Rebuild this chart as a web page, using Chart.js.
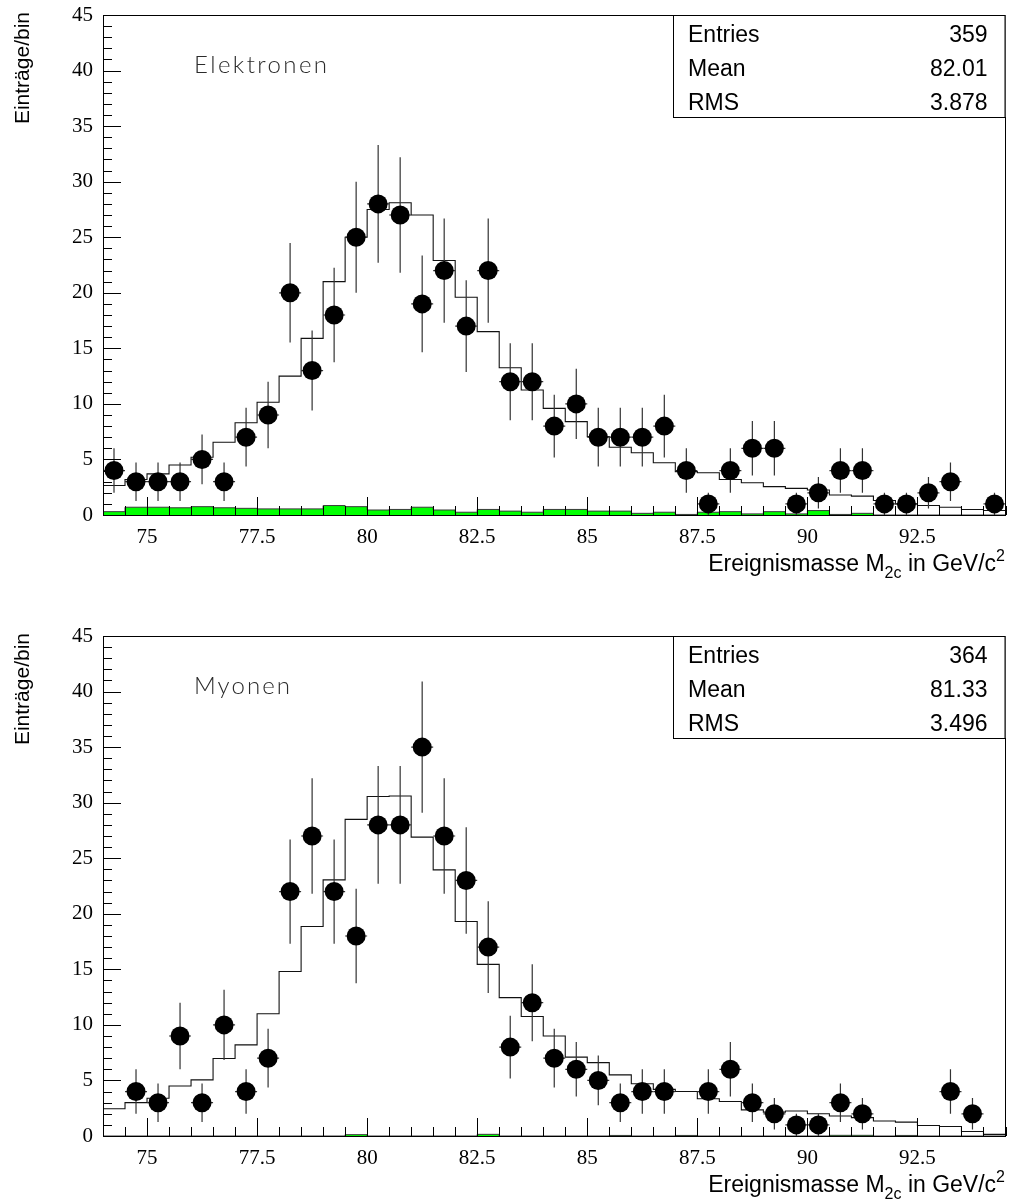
<!DOCTYPE html>
<html>
<head>
<meta charset="utf-8">
<title>Ereignismasse M2c</title>
<script src="https://cdn.jsdelivr.net/npm/chart.js@4/dist/chart.umd.min.js"></script>
<style>
    html, body { margin: 0; padding: 0; background: #fff; }
    .panel { position: absolute; left: 0; width: 1015px; height: 580px; }
</style>
</head>
<body>
<div class="panel" style="top:0"><canvas id="elec-chart" width="1015" height="580"></canvas></div>
<div class="panel" style="top:621px"><canvas id="muon-chart" width="1015" height="580"></canvas></div>

<script>
// Bin centres of the mass histograms (GeV/c^2), 0.5 wide bins from 74 to 94.5
const massBins = [
    74.25, 74.75, 75.25, 75.75, 76.25, 76.75, 77.25, 77.75, 78.25, 78.75,
    79.25, 79.75, 80.25, 80.75, 81.25, 81.75, 82.25, 82.75, 83.25, 83.75,
    84.25, 84.75, 85.25, 85.75, 86.25, 86.75, 87.25, 87.75, 88.25, 88.75,
    89.25, 89.75, 90.25, 90.75, 91.25, 91.75, 92.25, 92.75, 93.25, 93.75,
    94.25
];

// Electron channel: measured counts, MC expectation, background
const elecData = [
    4, 3, 3, 3, 5, 3, 7, 9, 20, 13,
    18, 25, 28, 27, 19, 22, 17, 22, 12, 12,
    8, 10, 7, 7, 7, 8, 4, 1, 4, 6,
    6, 1, 2, 4, 4, 1, 1, 2, 3, 0,
    1
];
const elecMC = [
    2.65, 3.2, 3.7, 4.5, 5.2, 6.55, 8.3, 10.15, 12.5, 15.9,
    21.0, 25.0, 27.5, 28.1, 27.0, 22.9, 19.6, 16.5, 13.25, 11.25,
    9.6, 8.4, 7.05, 6.1, 5.6, 4.7, 3.9, 3.8, 3.2, 2.9,
    2.55, 2.4, 2.25, 1.8, 1.7, 1.3, 1.0, 0.85, 0.7, 0.5,
    0.4
];
const elecBkg = [
    0.3, 0.7, 0.7, 0.65, 0.75, 0.65, 0.6, 0.55, 0.55, 0.55,
    0.85, 0.75, 0.45, 0.5, 0.7, 0.45, 0.25, 0.5, 0.35, 0.25,
    0.5, 0.5, 0.35, 0.35, 0.15, 0.25, 0.05, 0.25, 0.3, 0.1,
    0.3, 0.1, 0.4, 0.05, 0.15, 0, 0, 0, 0, 0,
    0
];
const elecStats = ['359', '82.01', '3.878'];

// Muon channel
const muonData = [
    0, 4, 3, 9, 3, 10, 4, 7, 22, 27,
    22, 18, 28, 28, 35, 27, 23, 17, 8, 12,
    7, 6, 5, 3, 4, 4, 0, 4, 6, 3,
    2, 1, 1, 3, 2, 0, 0, 0, 4, 2,
    0
];
const muonMC = [
    2.45, 3.0, 3.4, 4.5, 5.05, 6.97, 8.2, 11.0, 14.8, 18.85,
    23.05, 28.5, 30.55, 30.6, 26.9, 23.95, 19.3, 15.45, 12.45, 10.75,
    9.0, 7.1, 6.6, 5.5, 4.7, 4.2, 4.0, 3.35, 3.1, 2.35,
    2.15, 2.25, 2.0, 1.8, 1.65, 1.35, 1.25, 0.95, 0.85, 0.4,
    0.15
];
const muonBkg = [
    0, 0, 0, 0, 0, 0, 0, 0, 0, 0,
    0, 0.12, 0, 0, 0, 0, 0, 0.15, 0, 0,
    0, 0, 0, 0.05, 0, 0, 0.05, 0, 0, 0,
    0, 0, 0, 0.06, 0.06, 0, 0.05, 0, 0, 0,
    0
];
const muonStats = ['364', '81.33', '3.496'];

const xTicks = [75, 77.5, 80, 82.5, 85, 87.5, 90, 92.5];
const yTicks = [0, 5, 10, 15, 20, 25, 30, 35, 40, 45];
const statNames = ['Entries', 'Mean', 'RMS'];

const HALF_BIN = 0.25;
const SERIF = "'Liberation Serif', 'Times New Roman', serif";
const SANS = "'Liberation Sans', Arial, Helvetica, sans-serif";

// histogram outline: one point per left bin edge plus the closing right edge
function edgePoints(values) {
    const pts = values.map((v, i) => ({ x: massBins[i] - HALF_BIN, y: v }));
    pts.push({ x: massBins[massBins.length - 1] + HALF_BIN, y: values[values.length - 1] });
    return pts;
}

// data points, empty bins are not drawn
function countPoints(counts) {
    return massBins
        .map((m, i) => ({ x: m, y: counts[i] }))
        .filter(p => p.y > 0);
}

// Poisson error bars behind the markers
const errorBars = {
    id: 'errorBars',
    beforeDatasetDraw(chart, args) {
        if (args.index !== 0) return;
        const { ctx, scales: { x, y } } = chart;
        const ds = chart.data.datasets[0];
        ctx.save();
        ctx.strokeStyle = '#333';
        ctx.lineWidth = 1.2;
        ds.data.forEach(p => {
            const err = Math.sqrt(p.y);
            const px = x.getPixelForValue(p.x);
            const py = y.getPixelForValue(p.y);
            ctx.beginPath();
            ctx.moveTo(px, y.getPixelForValue(p.y - err));
            ctx.lineTo(px, y.getPixelForValue(p.y + err));
            ctx.moveTo(x.getPixelForValue(p.x - HALF_BIN), py);
            ctx.lineTo(x.getPixelForValue(p.x + HALF_BIN), py);
            ctx.stroke();
        });
        ctx.restore();
    }
};

// frame, inward ticks, axis titles, stats box and channel label
const rootFrame = {
    id: 'rootFrame',
    afterDatasetsDraw(chart, args, opts) {
        const { ctx, chartArea: a, scales: { x, y } } = chart;
        ctx.save();
        ctx.strokeStyle = '#000';
        ctx.lineWidth = 1;

        // ticks on the x axis: major every 2.5, minor every 0.5
        ctx.beginPath();
        for (let k = 0; k <= 41; k++) {
            const v = 74 + k * 0.5;
            const px = Math.round(x.getPixelForValue(v)) + 0.5;
            const major = xTicks.includes(v);
            ctx.moveTo(px, a.bottom);
            ctx.lineTo(px, a.bottom - (major ? 18 : 9));
        }
        // ticks on the y axis: major every 5, minor every 1
        for (let v = 0; v <= 45; v++) {
            const py = Math.round(y.getPixelForValue(v)) + 0.5;
            ctx.moveTo(a.left, py);
            ctx.lineTo(a.left + (v % 5 === 0 ? 18 : 9), py);
        }
        ctx.stroke();

        ctx.strokeRect(Math.round(a.left) + 0.5, Math.round(a.top) + 0.5,
            Math.round(a.right - a.left) - 1, Math.round(a.bottom - a.top));

        // stats box
        const bx = 673, by = a.top, bw = a.right - bx, bh = 102;
        ctx.fillStyle = '#fff';
        ctx.fillRect(bx, by, bw, bh);
        ctx.strokeRect(bx + 0.5, by + 0.5, bw - 1, bh);
        ctx.fillStyle = '#000';
        ctx.font = '23px ' + SANS;
        ctx.textBaseline = 'alphabetic';
        statNames.forEach((name, i) => {
            const base = by + 27 + i * 34;
            ctx.textAlign = 'left';
            ctx.fillText(name, bx + 15, base);
            ctx.textAlign = 'right';
            ctx.fillText(opts.stats[i], a.right - 18, base);
        });

        // x axis title with sub- and superscript
        const parts = [
            { t: 'Ereignismasse M', size: 23, dy: 0 },
            { t: '2c', size: 16, dy: 7 },
            { t: ' in GeV/c', size: 23, dy: 0 },
            { t: '2', size: 16, dy: -10 }
        ];
        let total = 0;
        parts.forEach(p => {
            ctx.font = p.size + 'px ' + SANS;
            p.w = ctx.measureText(p.t).width;
            total += p.w;
        });
        let cx = 1005 - total;
        const base = a.bottom + 56;
        ctx.textAlign = 'left';
        parts.forEach(p => {
            ctx.font = p.size + 'px ' + SANS;
            ctx.fillText(p.t, cx, base + p.dy);
            cx += p.w;
        });

        // y axis title, aligned to the top of the frame
        ctx.save();
        ctx.translate(29, a.top - 3);
        ctx.rotate(-Math.PI / 2);
        ctx.font = '21px ' + SANS;
        ctx.textAlign = 'right';
        ctx.fillText('Einträge/bin', 0, 0);
        ctx.restore();

        // channel label in thin lettering
        ctx.font = "300 24px Lato, 'DejaVu Sans', sans-serif";
        ctx.fillStyle = '#2a2a2a';
        ctx.textAlign = 'left';
        const w0 = ctx.measureText(opts.label).width;
        const spacing = (opts.labelWidth - w0) / (opts.label.length - 1);
        ctx.letterSpacing = spacing.toFixed(2) + 'px';
        ctx.fillText(opts.label, 194, a.top + 58);
        ctx.letterSpacing = '0px';

        ctx.restore();
    }
};

function makeChart(canvasId, label, labelWidth, counts, mc, bkg, stats) {
    const ctx = document.getElementById(canvasId).getContext('2d');
    return new Chart(ctx, {
        type: 'scatter',
        data: {
            datasets: [
                {
                    label: 'Daten',
                    data: countPoints(counts),
                    backgroundColor: '#000',
                    borderWidth: 0,
                    pointRadius: 9.5,
                    order: 0
                },
                {
                    label: 'MC',
                    data: edgePoints(mc),
                    showLine: true,
                    stepped: true,
                    borderColor: '#111',
                    borderWidth: 1.1,
                    pointRadius: 0,
                    fill: false,
                    order: 1
                },
                {
                    label: 'Untergrund',
                    data: edgePoints(bkg),
                    showLine: true,
                    stepped: true,
                    borderColor: '#3a3a3a',
                    borderWidth: 1,
                    backgroundColor: '#00ff00',
                    pointRadius: 0,
                    fill: 'origin',
                    order: 2
                }
            ]
        },
        options: {
            responsive: false,
            animation: false,
            events: [],
            layout: { padding: { top: 15, right: 5, left: 0, bottom: 0 } },
            scales: {
                x: {
                    type: 'linear',
                    min: 74,
                    max: 94.5,
                    grid: { display: false, drawTicks: false },
                    border: { display: false },
                    afterBuildTicks: s => { s.ticks = xTicks.map(v => ({ value: v })); },
                    afterFit: s => { s.height = 65; },
                    ticks: {
                        autoSkip: false,
                        maxRotation: 0,
                        padding: 10,
                        color: '#000',
                        font: { family: SERIF, size: 21 },
                        callback: v => String(v)
                    }
                },
                y: {
                    type: 'linear',
                    min: 0,
                    max: 45,
                    grid: { display: false, drawTicks: false },
                    border: { display: false },
                    afterBuildTicks: s => { s.ticks = yTicks.map(v => ({ value: v })); },
                    // fixed axis width; the labels may overhang the frame ends
                    afterFit: s => { s.width = 103; s.paddingTop = 0; s.paddingBottom = 0; },
                    ticks: {
                        padding: 10,
                        color: '#000',
                        font: { family: SERIF, size: 21 },
                        callback: v => String(v)
                    }
                }
            },
            plugins: {
                legend: { display: false },
                tooltip: { enabled: false },
                rootFrame: { label: label, labelWidth: labelWidth, stats: stats }
            }
        },
        plugins: [errorBars, rootFrame]
    });
}

makeChart('elec-chart', 'Elektronen', 133, elecData, elecMC, elecBkg, elecStats);
makeChart('muon-chart', 'Myonen', 96, muonData, muonMC, muonBkg, muonStats);
</script>
</body>
</html>
